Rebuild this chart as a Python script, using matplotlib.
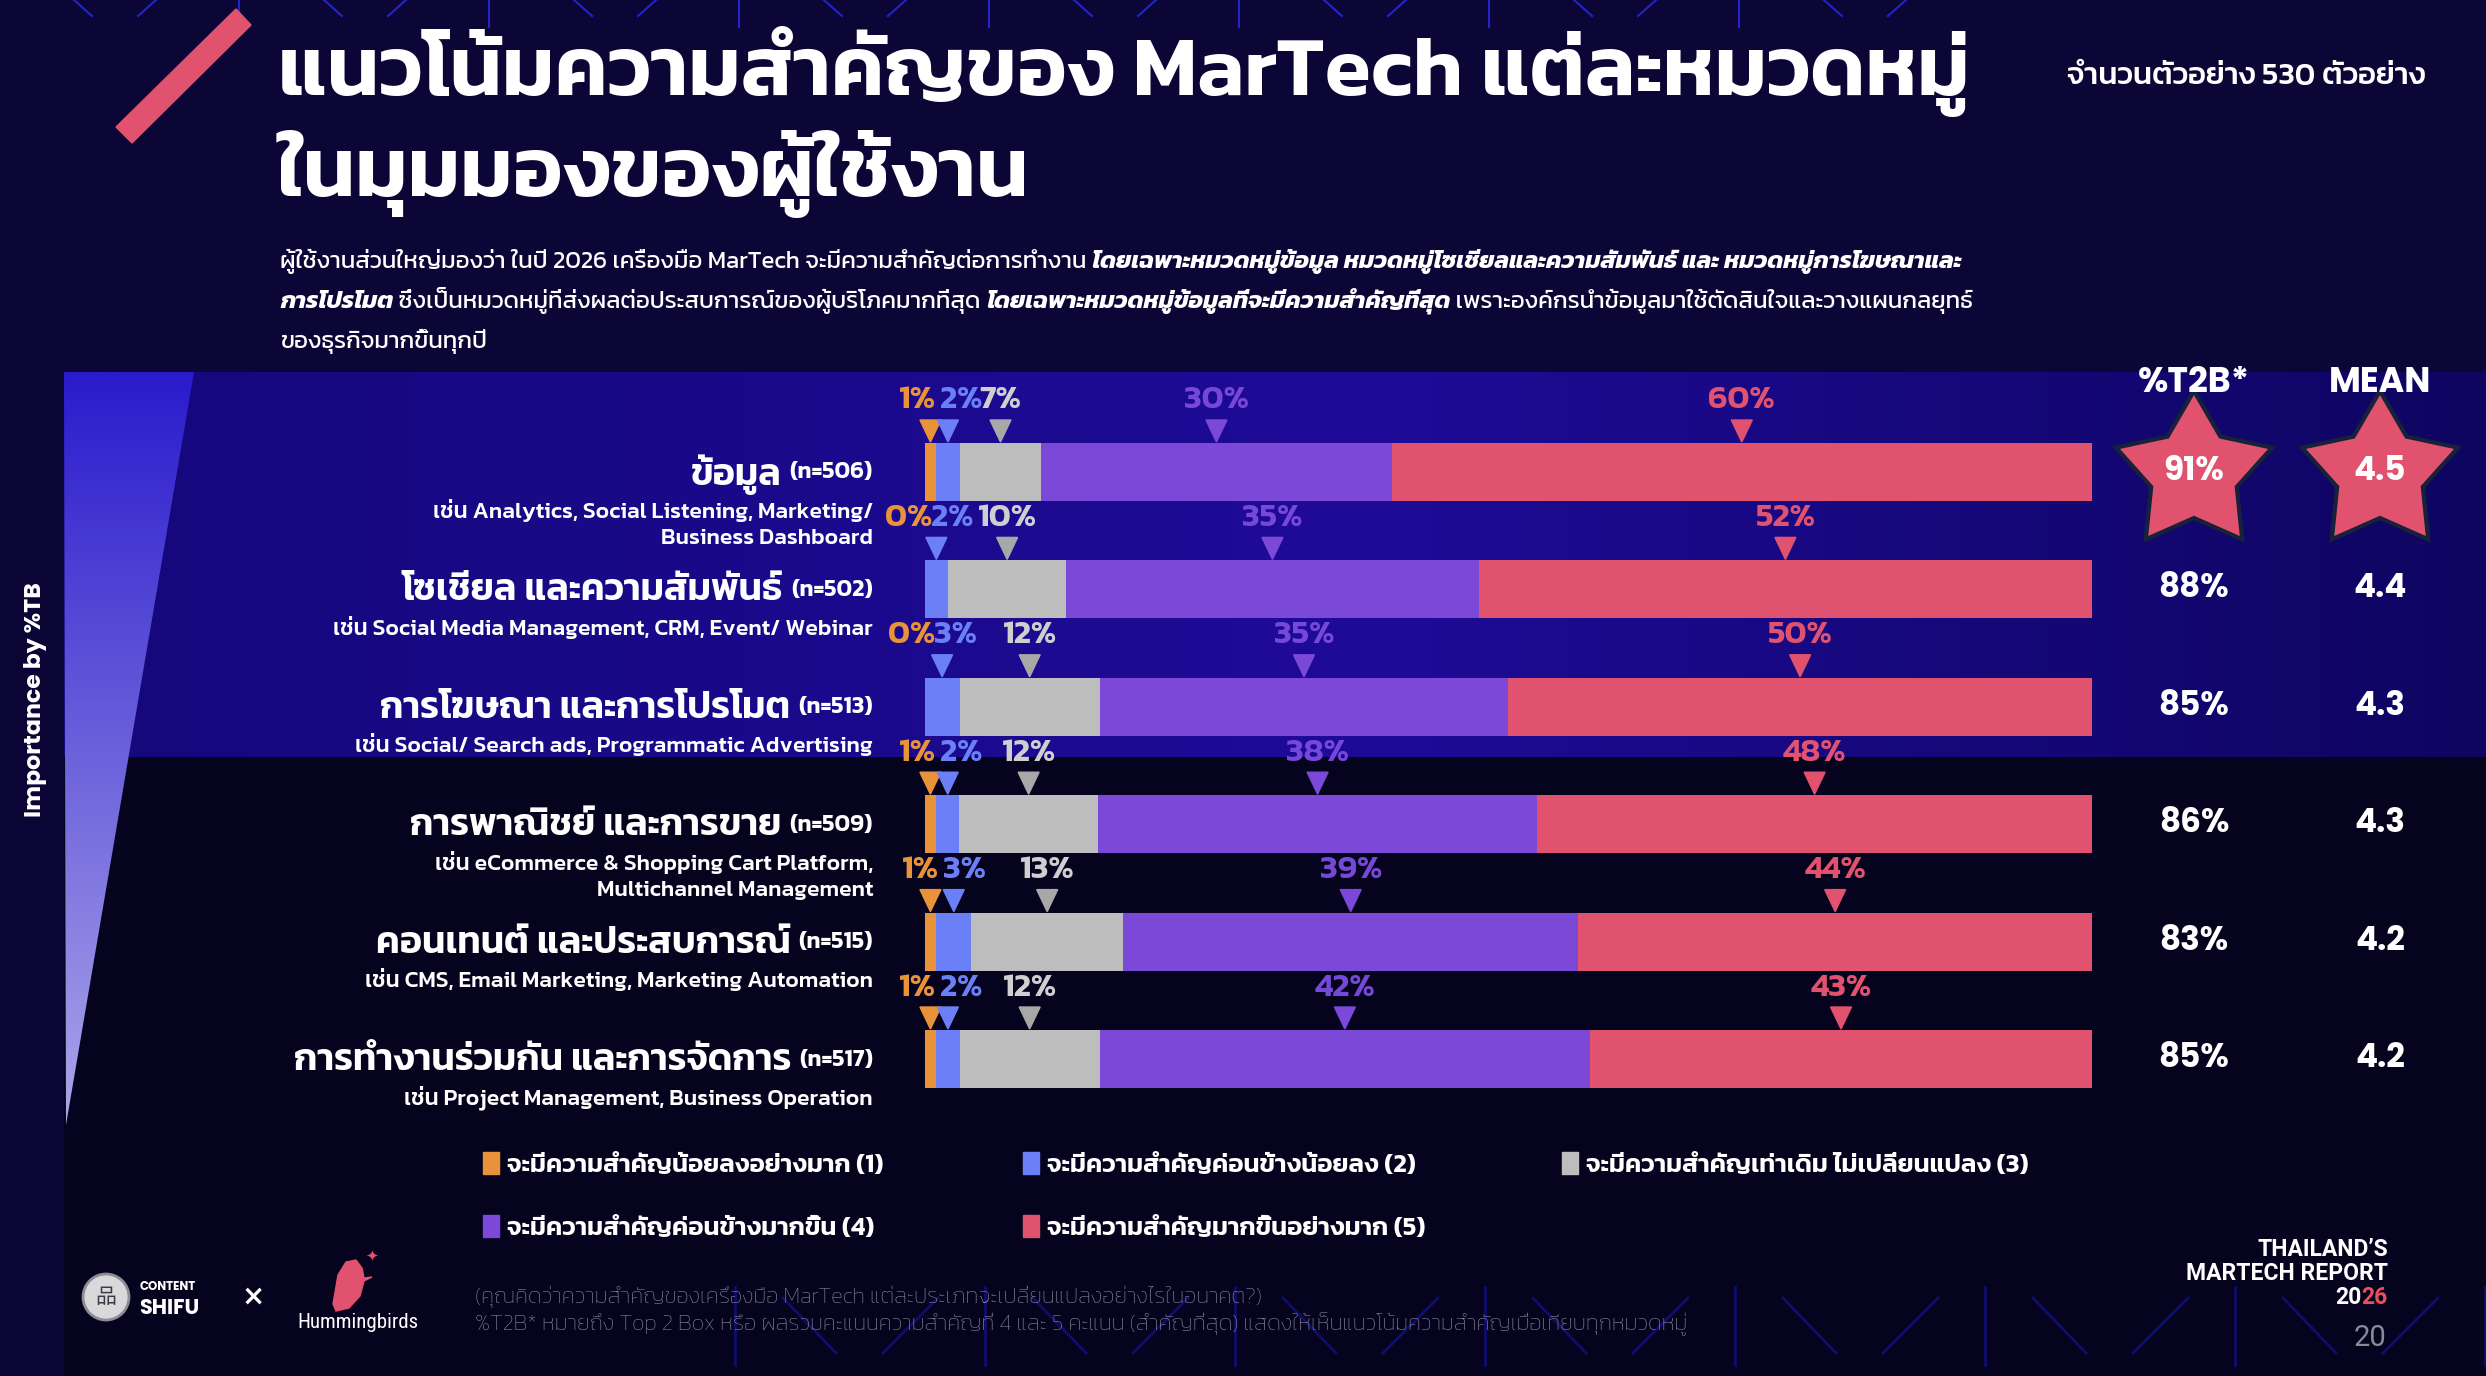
import numpy as np
import matplotlib
matplotlib.use("Agg")
import matplotlib.pyplot as plt
from matplotlib import font_manager
from matplotlib.patches import Polygon, Rectangle, Circle
from matplotlib.colors import to_rgb

# ---- data -------------------------------------------------------------
categories = ["ข้อมูล", "โซเชียล และความสัมพันธ์", "การโฆษณา และการโปรโมต",
              "การพาณิชย์ และการขาย", "คอนเทนต์ และประสบการณ์",
              "การทำงานร่วมกัน และการจัดการ"]
sample_n = [506, 502, 513, 509, 515, 517]
examples = [["เช่น Analytics, Social Listening, Marketing/", "Business Dashboard"],
            ["เช่น Social Media Management, CRM, Event/ Webinar"],
            ["เช่น Social/ Search ads, Programmatic Advertising"],
            ["เช่น eCommerce & Shopping Cart Platform,", "Multichannel Management"],
            ["เช่น CMS, Email Marketing, Marketing Automation"],
            ["เช่น Project Management, Business Operation"]]

much_less = [1, 0, 0, 1, 1, 1]
less = [2, 2, 3, 2, 3, 2]
same = [7, 10, 12, 12, 13, 12]
more = [30, 35, 35, 38, 39, 42]
much_more = [60, 52, 50, 48, 44, 43]
t2b = [91, 88, 85, 86, 83, 85]
mean_score = [4.5, 4.4, 4.3, 4.3, 4.2, 4.2]

levels = ["จะมีความสำคัญน้อยลงอย่างมาก (1)", "จะมีความสำคัญค่อนข้างน้อยลง (2)",
          "จะมีความสำคัญเท่าเดิม ไม่เปลี่ยนแปลง (3)", "จะมีความสำคัญค่อนข้างมากขึ้น (4)",
          "จะมีความสำคัญมากขึ้นอย่างมาก (5)"]
bar_colors = ["#e8923a", "#6b80f7", "#bdbdbd", "#7b48d8", "#e0526e"]
tri_colors = ["#e8923a", "#6b80f7", "#a8a8a8", "#7b48d8", "#e0526e"]
lab_colors = ["#e8923a", "#6b80f7", "#cfcfcf", "#7648d8", "#e0526e"]


def pick(cands):
    # first family that has a real (static) bold face
    bold = {f.name for f in font_manager.fontManager.ttflist if f.weight >= 700}
    for c in cands:
        if c in bold:
            return [c, "DejaVu Sans"]
    return ["DejaVu Sans"]


TH = ["Kanit", "Noto Sans Thai", "DejaVu Sans"]
GEO = pick(["Montserrat", "Poppins", "Figtree", "Outfit", "Lato"])
SANS = pick(["Roboto", "Roboto Condensed", "Inter", "Liberation Sans"])

W, H = 2486, 1376
fig = plt.figure(figsize=(W / 100, H / 100), dpi=100)
fig.patch.set_facecolor("#0b0535")

# pixel axes for background + free text
ax0 = fig.add_axes([0, 0, 1, 1])
ax0.set_xlim(0, W)
ax0.set_ylim(H, 0)
ax0.axis("off")

band_top, band_bot = 372, 757
img = np.zeros((H, W, 3))
img[:, :] = to_rgb("#0c0636")
img[band_bot:, :] = to_rgb("#06031e")
xs = np.linspace(0, 1, W)[:, None]
c_left, c_mid, c_right = [np.array(to_rgb(c)) for c in ("#14087a", "#1f0b98", "#0e0560")]
t1 = np.clip(xs / 0.55, 0, 1)
t2 = np.clip((xs - 0.55) / 0.45, 0, 1)
row = np.where(xs < 0.55, c_left * (1 - t1) + c_mid * t1, c_mid * (1 - t2) + c_right * t2)
img[band_top:band_bot, :] = row[None, :, :]
img[:, :64] = to_rgb("#0a0534")
ax0.imshow(img, extent=(0, W, H, 0), aspect="auto", zorder=0)

# left wedge with gradient
wedge = Polygon([(64, 372), (194, 372), (66, 1125)], closed=True, transform=ax0.transData)
grad = np.linspace(0, 1, 256)[:, None]
wc = np.array(to_rgb("#2a1bcc")) * (1 - grad[..., None]) + np.array(to_rgb("#aba6ea")) * grad[..., None]
wim = ax0.imshow(wc, extent=(64, 194, 1125, 372), aspect="auto", zorder=1)
wim.set_clip_path(wedge)
ax0.text(36, 700, "Importance by %TB", rotation=90, ha="center", va="center",
         color="white", fontsize=17, fontweight="bold", family=GEO)

# decorative thin lines top and bottom
for x0 in range(-11, 1900, 250):
    ax0.plot([x0, x0], [0, 27], color="#2323c8", lw=1.5, zorder=1)
    ax0.plot([x0 + 85, x0 + 103], [0, 16], color="#2323c8", lw=1.5, zorder=1)
    ax0.plot([x0 + 149, x0 + 167], [16, 0], color="#2323c8", lw=1.5, zorder=1)
for x0 in range(735, W + 10, 250):
    ax0.plot([x0, x0], [1287, 1365], color="#0e0e6c", lw=2, zorder=1)
    ax0.plot([x0 + 48, x0 + 101], [1298, 1353], color="#0e0e6c", lw=2, zorder=1)
    ax0.plot([x0 + 148, x0 + 203], [1353, 1298], color="#0e0e6c", lw=2, zorder=1)

# pink slash
ax0.add_patch(Polygon([(116, 127), (236, 9), (251, 25), (132, 143)], closed=True,
                      color="#e0526e", zorder=2))

# ---- title block --------------------------------------------------------
ax0.text(278, 95, "แนวโน้มความสำคัญของ MarTech แต่ละหมวดหมู่", color="white",
         fontsize=60.5, fontweight="semibold", family=TH, va="baseline")
ax0.text(278, 196, "ในมุมมองของผู้ใช้งาน", color="white",
         fontsize=60.5, fontweight="semibold", family=TH, va="baseline")
ax0.text(2425, 84, "จำนวนตัวอย่าง 530 ตัวอย่าง", color="white", fontsize=22.5,
         fontweight="medium", family=TH, ha="right", va="baseline")

renderer = fig.canvas.get_renderer()


def run_text(x, y, pieces, size):
    for txt, bold in pieces:
        t_ = ax0.text(x, y, txt, color="white", fontsize=size, family=TH, va="baseline",
                      fontweight="bold" if bold else "normal",
                      fontstyle="italic" if bold else "normal")
        x += t_.get_window_extent(renderer).width


sub = [
    [("ผู้ใช้งานส่วนใหญ่มองว่า ในปี 2026 เครื่องมือ MarTech จะมีความสำคัญต่อการทำงาน ", False),
     ("โดยเฉพาะหมวดหมู่ข้อมูล หมวดหมู่โซเชียลและความสัมพันธ์ และ หมวดหมู่การโฆษณาและ", True)],
    [("การโปรโมต", True), (" ซึ่งเป็นหมวดหมู่ที่ส่งผลต่อประสบการณ์ของผู้บริโภคมากที่สุด ", False),
     ("โดยเฉพาะหมวดหมู่ข้อมูลที่จะมีความสำคัญที่สุด", True),
     (" เพราะองค์กรนำข้อมูลมาใช้ตัดสินใจและวางแผนกลยุทธ์", False)],
    [("ของธุรกิจมากขึ้นทุกปี", False)],
]
for k, pieces in enumerate(sub):
    run_text(280, 268 + 40 * k, pieces, 17.4)

# ---- stacked bars -------------------------------------------------------
row_h = 117.4
first_c = 472
bx0, bx1 = 924.6, 2092
ax_top = first_c - row_h / 2
axb = fig.add_axes([bx0 / W, 1 - (ax_top + 6 * row_h) / H, (bx1 - bx0) / W, 6 * row_h / H])
axb.set_xlim(0, 100)
axb.set_ylim(5.5, -0.5)
axb.axis("off")
axb.patch.set_alpha(0)

data = np.array([much_less, less, same, more, much_more], dtype=float)
shares = data / data.sum(axis=0) * 100
ypos = np.arange(len(categories))
px = (bx1 - bx0) / 100
bar_h = 58 / row_h
left = np.zeros(len(categories))
for j in range(5):
    axb.barh(ypos, shares[j], left=left, height=bar_h, color=bar_colors[j], zorder=2)
    centers = left + shares[j] / 2
    for i in ypos:
        tip = i - bar_h / 2 - 1 / row_h
        cx = centers[i]
        lx = cx
        if j == 0:
            # orange and blue labels sit as a pair
            bc = left[i] + shares[0, i] + shares[1, i] / 2
            lx = (cx + bc) / 2 - 22 / px
        elif j == 1:
            oc = left[i] - shares[0, i] / 2
            lx = (oc + cx) / 2 + 22 / px
        if data[j, i] > 0:
            hw = 10.5 / px
            axb.add_patch(Polygon([(cx - hw, tip - 22 / row_h), (cx + hw, tip - 22 / row_h), (cx, tip)],
                                  closed=True, color=tri_colors[j], zorder=3, clip_on=False))
        axb.text(lx, tip - 41 / row_h, f"{int(data[j, i])}%", color=lab_colors[j], fontsize=24,
                 fontweight="semibold", family=TH, ha="center", va="center", clip_on=False)
    left = left + shares[j]

# ---- category labels ----------------------------------------------------
lab_x = 873
for i, cat in enumerate(categories):
    cy = first_c + i * row_h
    nt = ax0.text(lab_x, cy - 2, f"(n={sample_n[i]})", color="white", fontsize=17,
                  fontweight="semibold", family=TH, ha="right", va="center_baseline")
    nw = nt.get_window_extent(renderer).width
    ax0.text(lab_x - nw - 8, cy - 2, cat, color="white", fontsize=27,
             fontweight="semibold", family=TH, ha="right", va="center_baseline")
    for k, line in enumerate(examples[i]):
        ax0.text(lab_x, cy + 36 + 28 * k, line, color="white", fontsize=16.5,
                 fontweight="medium", family=TH, ha="right", va="center_baseline")

# ---- T2B and MEAN columns ----------------------------------------------
col_t2b, col_mean = 2194, 2380
ax0.text(col_t2b, 383, "%T2B*", color="white", fontsize=25, fontweight="bold",
         family=GEO, ha="center", va="center", zorder=5)
ax0.text(col_mean, 383, "MEAN", color="white", fontsize=25, fontweight="bold",
         family=GEO, ha="center", va="center", zorder=5)


def star(cx, cy, r_out=82, r_in=45):
    ang = np.pi / 2 + np.arange(10) * np.pi / 5
    rr = np.where(np.arange(10) % 2 == 0, r_out, r_in)
    return np.column_stack([cx + rr * np.cos(ang), cy - rr * np.sin(ang)])


top_row = int(np.argmax(t2b))
for i in range(len(categories)):
    cy = first_c + i * row_h
    if i == top_row:
        for cx in (col_t2b, col_mean):
            ax0.add_patch(Polygon(star(cx, cy + 1), closed=True, facecolor="#e0526e",
                                  edgecolor="#17223a", lw=3, zorder=3))
    ax0.text(col_t2b, cy, f"{t2b[i]}%", color="white", fontsize=23.5, fontweight="bold",
             family=GEO, ha="center", va="center", zorder=4)
    ax0.text(col_mean, cy, f"{mean_score[i]:.1f}", color="white", fontsize=23.5, fontweight="bold",
             family=GEO, ha="center", va="center", zorder=4)

# ---- legend -------------------------------------------------------------
leg_pos = [(491, 1163), (1031, 1163), (1570, 1163), (491, 1226), (1031, 1226)]
for (lx, ly), lab, col in zip(leg_pos, levels, bar_colors):
    ax0.add_patch(Rectangle((lx - 8, ly - 11), 16, 22, color=col, zorder=3))
    ax0.text(lx + 16, ly, lab, color="white", fontsize=18.5, fontweight="semibold",
             family=TH, va="center_baseline")

# ---- footer -------------------------------------------------------------
ax0.add_patch(Circle((106, 1297), 23, facecolor="#d9d9dc", edgecolor="#8d8d95", lw=2, zorder=3))
ax0.text(106, 1297, "品", color="#3a3a44", fontsize=15, ha="center", va="center",
         family=["Noto Sans CJK SC", "DejaVu Sans"], zorder=4)
ax0.text(140, 1287, "CONTENT", color="white", fontsize=8.5, fontweight="bold",
         family=GEO, va="center")
ax0.text(139, 1309, "SHIFU", color="white", fontsize=15, fontweight="bold",
         family=GEO, va="center")
ax0.text(253, 1297, "×", color="white", fontsize=20, fontweight="bold", ha="center", va="center")
ax0.add_patch(Polygon([(333, 1304), (338, 1275), (346, 1262), (356, 1260), (362, 1268),
                       (364, 1278), (372, 1277), (364, 1281), (360, 1296), (349, 1308),
                       (336, 1311)], closed=True, color="#e0526e", zorder=3))
ax0.text(372, 1256, "✦", color="#e0526e", fontsize=11, ha="center", va="center", family=["DejaVu Sans"])
ax0.text(358, 1322, "Hummingbirds", color="white", fontsize=15, family=["Roboto Condensed", "DejaVu Sans"],
         ha="center", va="center")

ax0.text(475, 1294, "(คุณคิดว่าความสำคัญของเครื่องมือ MarTech แต่ละประเภทจะเปลี่ยนแปลงอย่างไรในอนาคต?)",
         color="#8d8c9c", fontsize=16, fontweight="light", family=TH, va="center_baseline")
ax0.text(475, 1321, "%T2B* หมายถึง Top 2 Box หรือ ผลรวมคะแนนความสำคัญที่ 4 และ 5 คะแนน (สำคัญที่สุด) "
         "แสดงให้เห็นแนวโน้มความสำคัญเมื่อเทียบทุกหมวดหมู่",
         color="#8d8c9c", fontsize=16, fontweight="light", family=TH, va="center_baseline")

ax0.text(2388, 1250, "THAILAND’S", color="white", fontsize=16.5, fontweight="bold",
         family=SANS, ha="right", va="center")
ax0.text(2388, 1273, "MARTECH REPORT", color="white", fontsize=16.5, fontweight="bold",
         family=SANS, ha="right", va="center")
t26 = ax0.text(2388, 1297, "26", color="#e8505b", fontsize=16.5, fontweight="bold",
               family=SANS, ha="right", va="center")
w26 = t26.get_window_extent(renderer).width
ax0.text(2388 - w26, 1297, "20", color="white", fontsize=16.5, fontweight="bold",
         family=SANS, ha="right", va="center")
ax0.text(2370, 1338, "20", color="#8a8a96", fontsize=21, family=SANS, ha="center", va="center")

fig.savefig("out.png", dpi=100, facecolor=fig.get_facecolor())
